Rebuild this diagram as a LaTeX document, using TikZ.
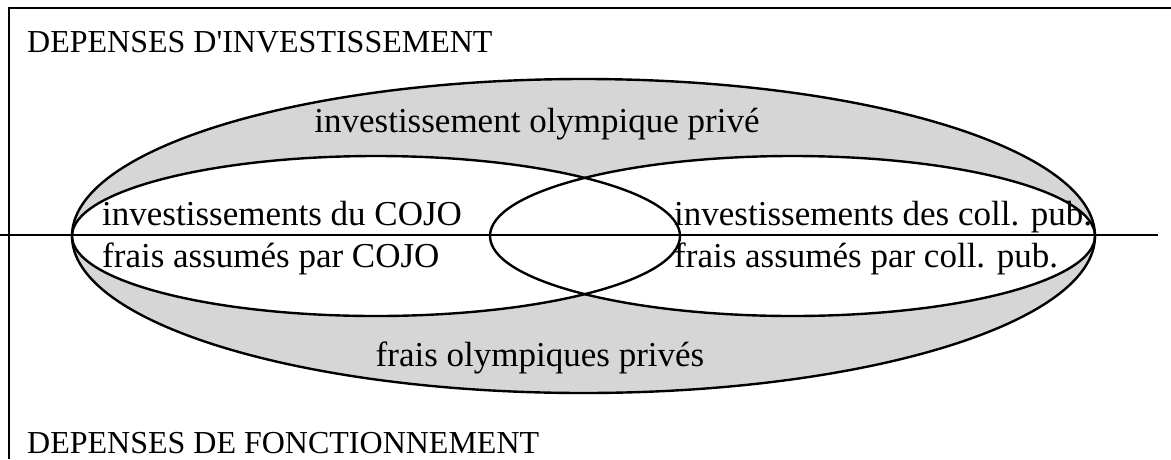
\documentclass[tikz,border=0pt]{standalone}
\usepackage{fontspec}
\setmainfont{Liberation Serif}
\newfontfamily\plainserif{Liberation Serif}
\definecolor{fillgray}{RGB}{214,214,214}
\begin{document}
\begin{tikzpicture}[x=1pt,y=-1pt,
  lbl/.style={inner sep=0pt,font=\fontsize{35}{41}\selectfont},
  ttl/.style={inner sep=0pt,anchor=base west,font=\plainserif\fontsize{32}{38}\selectfont},
  outline/.style={line width=2.4pt,black}]
\useasboundingbox (0,0) rectangle (1171,459);
% shaded outer ellipse, white inner ellipses
\fill[fillgray] (583.5,236) ellipse [x radius=511.5pt, y radius=157pt];
\fill[white] (376,236) ellipse [x radius=304pt, y radius=80pt];
\fill[white] (792.5,236) ellipse [x radius=302.5pt, y radius=80pt];
\draw[outline] (583.5,236) ellipse [x radius=511.5pt, y radius=157pt];
\draw[outline] (376,236) ellipse [x radius=304pt, y radius=80pt];
\draw[outline] (792.5,236) ellipse [x radius=302.5pt, y radius=80pt];
% frame
\coordinate (fb) at (9,459);
\coordinate (fc) at (9,8);
\coordinate (fr) at (1171,8);
\draw[line width=2.6pt] (fb) -- (fc) -- (fr);
% dividing line
\coordinate (ml) at (0,235);
\coordinate (mr) at (1158,235);
\draw[line width=2pt] (ml) -- (mr);
% texts
\node[ttl] (inv) at (27,52) {DEPENSES D'INVESTISSEMENT};
\node[ttl] (fon) at (27,453) {DEPENSES DE FONCTIONNEMENT};
\node[lbl,anchor=base] (iop) at (537,132) {investissement olympique privé};
\node[lbl,anchor=base west] (ic) at (102,225) {investissements du COJO};
\node[lbl,anchor=base west] (fc1) at (102,267) {frais assumés par COJO};
\node[lbl,anchor=base west] (ip) at (674,225) {investissements des coll. pub.};
\node[lbl,anchor=base west] (fp) at (674,267) {frais assumés par coll. pub.};
\node[lbl,anchor=base] (fop) at (540,366) {frais olympiques privés};
\end{tikzpicture}
\end{document}
